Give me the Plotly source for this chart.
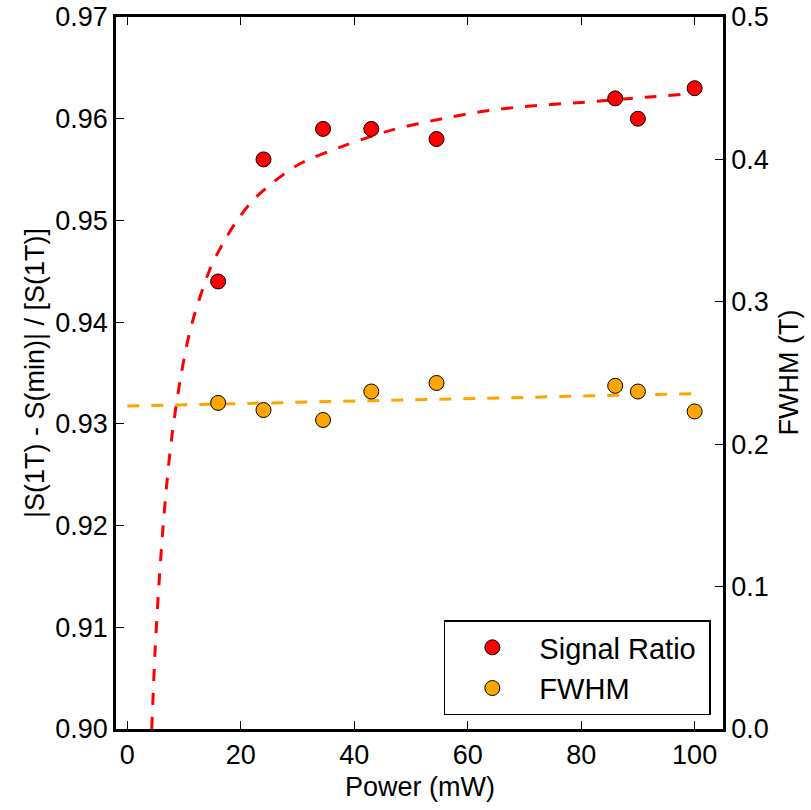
import plotly.graph_objects as go

# Measured data
power = [16, 24, 34.5, 43, 54.5, 86, 90, 100]
signal_ratio = [0.944, 0.956, 0.959, 0.959, 0.958, 0.962, 0.960, 0.963]
fwhm = [0.229, 0.224, 0.217, 0.237, 0.243, 0.241, 0.237, 0.223]

# Fit curves
ratio_fit_x = [4.3, 4.9, 5.5, 6.2, 7.0, 7.9, 9.4, 10.9, 12.3, 14.7, 17.0, 19.1, 22.0,
               25.8, 30.5, 38.5, 46.7, 55.5, 63.7, 70.0, 80.0, 91.3, 100]
ratio_fit_y = [0.9000, 0.9078, 0.9136, 0.9192, 0.9244, 0.9290, 0.9346, 0.9388,
               0.9416, 0.9454, 0.9479, 0.9498, 0.9519, 0.9538, 0.9556, 0.9574,
               0.9589, 0.9600, 0.9608, 0.9612, 0.9616, 0.9621, 0.9625]
fwhm_fit_x = [0, 100]
fwhm_fit_y = [0.2268, 0.2355]

x_ticks = [0, 20, 40, 60, 80, 100]
y_ticks = [0.90, 0.91, 0.92, 0.93, 0.94, 0.95, 0.96, 0.97]
y2_ticks = [0.0, 0.1, 0.2, 0.3, 0.4, 0.5]

x_title = "Power (mW)"
y_title = "|S(1T) - S(min)| / [S(1T)]"
y2_title = "FWHM (T)"

FONT = "Liberation Sans, Arial, sans-serif"

fig = go.Figure()
fig.add_trace(go.Scatter(x=ratio_fit_x, y=ratio_fit_y, mode="lines",
                         line=dict(color="#FF0000", width=3, dash="12px,12px",
                                   shape="spline", smoothing=0.8),
                         showlegend=False, hoverinfo="skip"))
fig.add_trace(go.Scatter(x=fwhm_fit_x, y=fwhm_fit_y, mode="lines", yaxis="y2",
                         line=dict(color="#FFA500", width=3, dash="12px,12px"),
                         showlegend=False, hoverinfo="skip"))
fig.add_trace(go.Scatter(x=power, y=signal_ratio, mode="markers", name="Signal Ratio\u00a0",
                         marker=dict(color="#FF0000", size=15, line=dict(color="black", width=1))))
fig.add_trace(go.Scatter(x=power, y=fwhm, mode="markers", name="FWHM", yaxis="y2",
                         marker=dict(color="#FFA500", size=15, line=dict(color="black", width=1))))

axis_common = dict(showgrid=False, zeroline=False, showline=True, linecolor="black",
                   linewidth=2.5, ticks="inside", ticklen=8, tickwidth=1, tickcolor="black",
                   automargin=False,
                   tickfont=dict(size=27, color="black", family=FONT))

fig.update_layout(
    width=811, height=810,
    margin=dict(l=116, r=88, t=17, b=81),
    paper_bgcolor="white", plot_bgcolor="white",
    font=dict(family=FONT, color="black", size=27),
    xaxis=dict(range=[-2, 105], tickvals=x_ticks, mirror="ticks", **axis_common),
    yaxis=dict(range=[0.90, 0.97], tickvals=y_ticks, tickformat=".2f", **axis_common),
    yaxis2=dict(range=[0.0, 0.5], tickvals=y2_ticks, tickformat=".1f", overlaying="y",
                side="right", anchor="x", **axis_common),
    legend=dict(x=0.98, y=0.019, xanchor="right", yanchor="bottom",
                bgcolor="white", bordercolor="black", borderwidth=1.5,
                font=dict(size=29, family=FONT), itemwidth=84, tracegroupgap=4),
    showlegend=True,
    annotations=[
        dict(text=x_title, xref="paper", yref="paper", x=0.5, y=-0.081,
             xanchor="center", yanchor="middle", showarrow=False, font=dict(size=27)),
        dict(text=y_title, xref="paper", yref="paper", x=-0.1334, y=0.5,
             xanchor="center", yanchor="middle", textangle=-90, showarrow=False,
             font=dict(size=27)),
        dict(text=y2_title, xref="paper", yref="paper", x=1.108, y=0.5,
             xanchor="center", yanchor="middle", textangle=-90, showarrow=False,
             font=dict(size=27)),
    ],
)

fig.write_html("out.html")
